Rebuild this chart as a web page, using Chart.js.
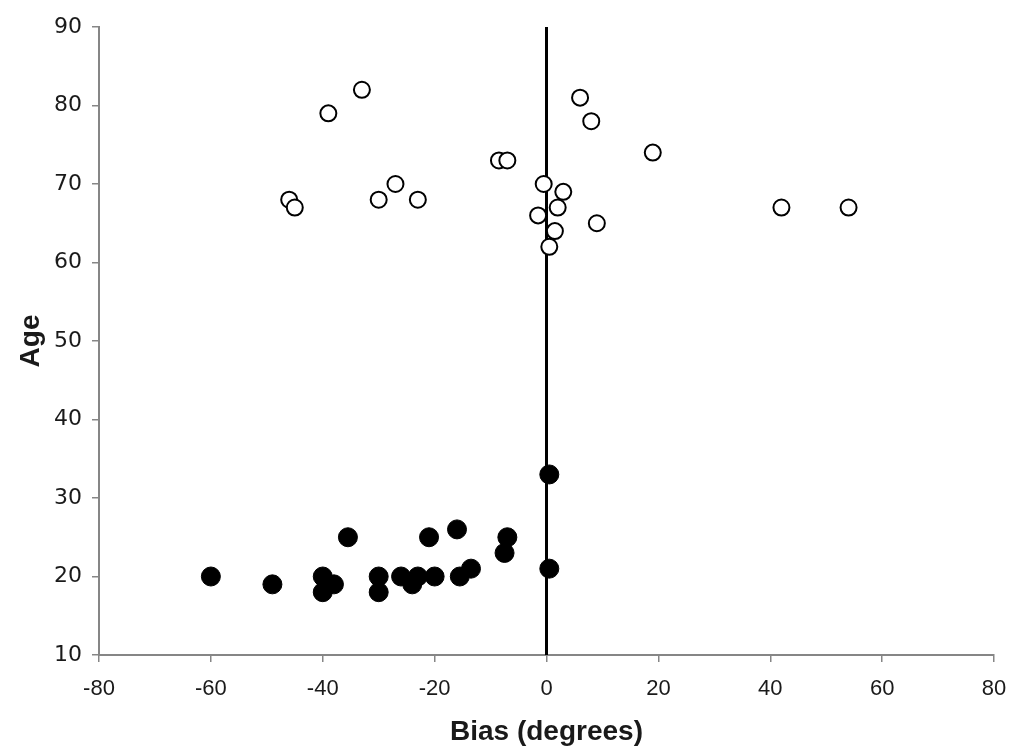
<!DOCTYPE html>
<html>
<head>
<meta charset="utf-8">
<script src="https://cdn.jsdelivr.net/npm/chart.js@4.4.0/dist/chart.umd.min.js"></script>
<style>
  html, body { margin: 0; padding: 0; background: #fff; }
  #wrap { width: 1012px; height: 749px; }
</style>
</head>
<body>
<div id="wrap"><canvas id="biasChart" width="1012" height="749"></canvas></div>
<script>
// older group (open circles)
const olderBias = [-46, -45, -39, -33, -30, -27, -23, -8.5, -7, -0.5, -1.5, 0.5, 1.5, 2, 3, 6, 8, 9, 19, 42, 54];
const olderAge  = [68, 67, 79, 82, 68, 70, 68, 73, 73, 70, 66, 62, 64, 67, 69, 81, 78, 65, 74, 67, 67];
// younger group (filled circles)
const youngerBias = [-60, -49, -40, -38, -40, -35.5, -30, -30, -26, -24, -23, -20, -21, -16, -15.5, -13.5, -7, -7.5, 0.5, 0.5];
const youngerAge  = [20, 19, 20, 19, 18, 25, 20, 18, 20, 19, 20, 20, 25, 26, 20, 21, 25, 23, 21, 33];
// zero-bias reference line
const zeroLineX = [0, 0];
const zeroLineY = [10, 90];

const xTicks = [-80, -60, -40, -20, 0, 20, 40, 60, 80];

const toPoints = (xs, ys) => xs.map((x, i) => ({ x: x, y: ys[i] }));

const axisGrey = '#868686';

new Chart(document.getElementById('biasChart'), {
    type: 'scatter',
    data: {
        datasets: [
            {
                label: 'zero',
                type: 'line',
                data: toPoints(zeroLineX, zeroLineY),
                borderColor: '#000',
                borderWidth: 3,
                pointRadius: 0,
                fill: false,
                order: 3
            },
            {
                label: 'older',
                data: toPoints(olderBias, olderAge),
                backgroundColor: '#fff',
                borderColor: '#000',
                borderWidth: 2,
                pointRadius: 8,
                order: 1
            },
            {
                label: 'younger',
                data: toPoints(youngerBias, youngerAge),
                backgroundColor: '#000',
                borderColor: '#000',
                borderWidth: 1,
                pointRadius: 9.5,
                order: 2
            }
        ]
    },
    options: {
        responsive: false,
        animation: false,
        layout: { padding: { top: 27, right: 18, bottom: 0, left: 0 } },
        plugins: {
            legend: { display: false },
            tooltip: { enabled: false }
        },
        scales: {
            x: {
                type: 'linear',
                min: -80,
                max: 80,
                afterBuildTicks: (scale) => {
                    scale.ticks = xTicks.map(v => ({ value: v }));
                },
                afterFit: (scale) => {
                    scale.height = 94;
                    scale.paddingRight = 0;
                    scale.paddingLeft = 0;
                },
                grid: {
                    drawOnChartArea: false,
                    color: axisGrey,
                    tickLength: 7,
                    lineWidth: 1.5
                },
                border: { color: axisGrey, width: 2 },
                ticks: {
                    padding: 14,
                    color: '#1a1a1a',
                    font: { family: "'Liberation Sans', Arial", size: 22 }
                },
                title: {
                    display: true,
                    text: 'Bias (degrees)',
                    color: '#1a1a1a',
                    padding: { top: 0, bottom: 0 },
                    font: { family: "'Liberation Sans', Arial", size: 28, weight: 'bold' }
                }
            },
            y: {
                type: 'linear',
                min: 10,
                max: 90,
                ticks: {
                    stepSize: 10,
                    padding: 10,
                    color: '#1a1a1a',
                    font: { family: "'DejaVu Sans', Verdana", size: 22 }
                },
                afterFit: (scale) => { scale.width = 99; },
                grid: {
                    drawOnChartArea: false,
                    color: axisGrey,
                    tickLength: 7,
                    lineWidth: 1.5
                },
                border: { color: axisGrey, width: 2 },
                title: {
                    display: true,
                    text: 'Age',
                    color: '#1a1a1a',
                    padding: { top: 14, bottom: 0 },
                    font: { family: "'Liberation Sans', Arial", size: 28, weight: 'bold' }
                }
            }
        }
    }
});
</script>
</body>
</html>
